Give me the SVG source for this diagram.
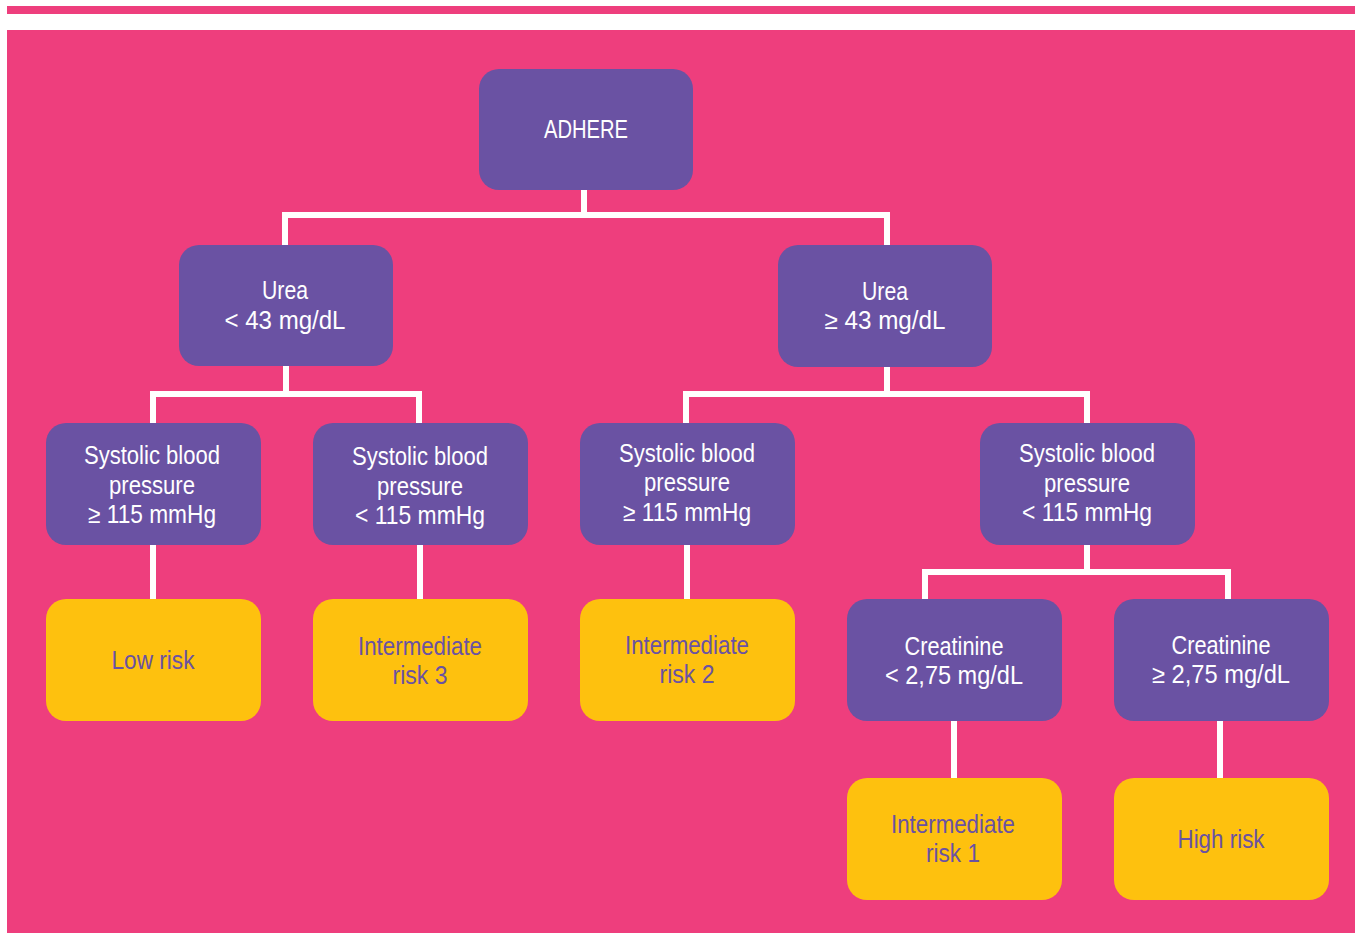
<svg xmlns="http://www.w3.org/2000/svg" width="1355" height="933" viewBox="0 0 1355 933">
<style>
.p{fill:#6A52A3}
.y{fill:#FEC10E}
text{font-family:"Liberation Sans",Arial,sans-serif;font-size:25.5px;text-anchor:middle}
.tw{fill:#FFFFFF}
.tp{fill:#6A52A3}
.c{stroke:#FFFFFF;stroke-width:6;fill:none}
</style>
<rect x="0" y="0" width="1355" height="933" fill="#FFFFFF"/>
<rect x="7" y="6" width="1348" height="8" fill="#EE3E7D"/>
<rect x="7" y="30" width="1348" height="903" fill="#EE3E7D"/>
<g id="connectors">
<path class="c" d="M584 190V215M285 245V215H887V245"/>
<path class="c" d="M286 366V394M153 424V394H419V424"/>
<path class="c" d="M887 367V394M686 424V394H1087V424"/>
<path class="c" d="M153 545V600M420 545V600M687 545V600"/>
<path class="c" d="M1087 545V572M925 600V572H1228V600"/>
<path class="c" d="M954 721V779M1220 721V779"/>
</g>
<g id="adhere"><rect class="p" x="479" y="69" width="214" height="121" rx="20"/><text class="tw" x="586" y="138" textLength="84" lengthAdjust="spacingAndGlyphs">ADHERE</text></g>
<g id="urea-low"><rect class="p" x="179" y="245" width="214" height="121" rx="20"/><text class="tw" x="285" y="299" textLength="46" lengthAdjust="spacingAndGlyphs">Urea</text><text class="tw" x="285" y="329" textLength="121" lengthAdjust="spacingAndGlyphs">&lt; 43 mg/dL</text></g>
<g id="urea-high"><rect class="p" x="778" y="245" width="214" height="122" rx="20"/><text class="tw" x="885" y="300" textLength="46" lengthAdjust="spacingAndGlyphs">Urea</text><text class="tw" x="885" y="329" textLength="121" lengthAdjust="spacingAndGlyphs">≥ 43 mg/dL</text></g>
<g id="sbp1"><rect class="p" x="46" y="423" width="215" height="122" rx="20"/><text class="tw" x="152" y="464" textLength="136" lengthAdjust="spacingAndGlyphs">Systolic blood</text><text class="tw" x="152" y="494" textLength="86" lengthAdjust="spacingAndGlyphs">pressure</text><text class="tw" x="152" y="523" textLength="128" lengthAdjust="spacingAndGlyphs">≥ 115 mmHg</text></g>
<g id="sbp2"><rect class="p" x="313" y="423" width="215" height="122" rx="20"/><text class="tw" x="420" y="465" textLength="136" lengthAdjust="spacingAndGlyphs">Systolic blood</text><text class="tw" x="420" y="495" textLength="86" lengthAdjust="spacingAndGlyphs">pressure</text><text class="tw" x="420" y="524" textLength="130" lengthAdjust="spacingAndGlyphs">&lt; 115 mmHg</text></g>
<g id="sbp3"><rect class="p" x="580" y="423" width="215" height="122" rx="20"/><text class="tw" x="687" y="462" textLength="136" lengthAdjust="spacingAndGlyphs">Systolic blood</text><text class="tw" x="687" y="491" textLength="86" lengthAdjust="spacingAndGlyphs">pressure</text><text class="tw" x="687" y="521" textLength="128" lengthAdjust="spacingAndGlyphs">≥ 115 mmHg</text></g>
<g id="sbp4"><rect class="p" x="980" y="423" width="215" height="122" rx="20"/><text class="tw" x="1087" y="462" textLength="136" lengthAdjust="spacingAndGlyphs">Systolic blood</text><text class="tw" x="1087" y="492" textLength="86" lengthAdjust="spacingAndGlyphs">pressure</text><text class="tw" x="1087" y="521" textLength="130" lengthAdjust="spacingAndGlyphs">&lt; 115 mmHg</text></g>
<g id="low-risk"><rect class="y" x="46" y="599" width="215" height="122" rx="20"/><text class="tp" x="153" y="669" textLength="83" lengthAdjust="spacingAndGlyphs">Low risk</text></g>
<g id="int3"><rect class="y" x="313" y="599" width="215" height="122" rx="20"/><text class="tp" x="420" y="655" textLength="124" lengthAdjust="spacingAndGlyphs">Intermediate</text><text class="tp" x="420" y="684" textLength="55" lengthAdjust="spacingAndGlyphs">risk 3</text></g>
<g id="int2"><rect class="y" x="580" y="599" width="215" height="122" rx="20"/><text class="tp" x="687" y="654" textLength="124" lengthAdjust="spacingAndGlyphs">Intermediate</text><text class="tp" x="687" y="683" textLength="55" lengthAdjust="spacingAndGlyphs">risk 2</text></g>
<g id="creat-low"><rect class="p" x="847" y="599" width="215" height="122" rx="20"/><text class="tw" x="954" y="655" textLength="99" lengthAdjust="spacingAndGlyphs">Creatinine</text><text class="tw" x="954" y="684" textLength="138" lengthAdjust="spacingAndGlyphs">&lt; 2,75 mg/dL</text></g>
<g id="creat-high"><rect class="p" x="1114" y="599" width="215" height="122" rx="20"/><text class="tw" x="1221" y="654" textLength="99" lengthAdjust="spacingAndGlyphs">Creatinine</text><text class="tw" x="1221" y="683" textLength="138" lengthAdjust="spacingAndGlyphs">≥ 2,75 mg/dL</text></g>
<g id="int1"><rect class="y" x="847" y="778" width="215" height="122" rx="20"/><text class="tp" x="953" y="833" textLength="124" lengthAdjust="spacingAndGlyphs">Intermediate</text><text class="tp" x="953" y="862" textLength="54" lengthAdjust="spacingAndGlyphs">risk 1</text></g>
<g id="high-risk"><rect class="y" x="1114" y="778" width="215" height="122" rx="20"/><text class="tp" x="1221" y="848" textLength="87" lengthAdjust="spacingAndGlyphs">High risk</text></g>
</svg>
